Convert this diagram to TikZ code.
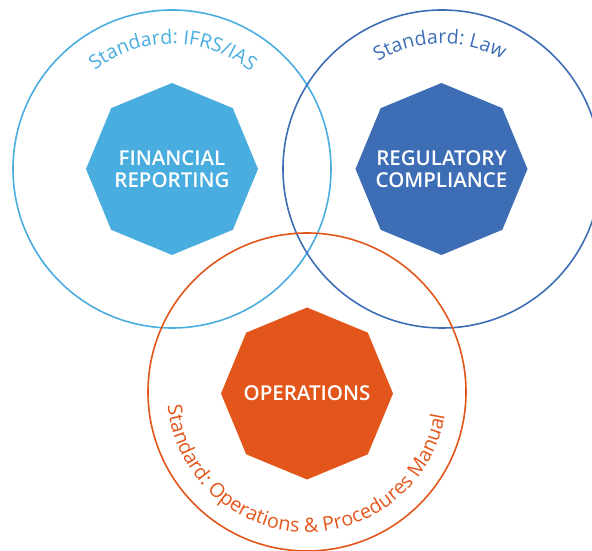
\documentclass[tikz,border=0pt]{standalone}
\usepackage{fontspec}
\setmainfont{Open Sans}
\newfontfamily\semib{Open Sans Semibold}
\usetikzlibrary{decorations.text}
\definecolor{lblue}{HTML}{49ADE0}
\definecolor{dblue}{HTML}{3D6EB5}
\definecolor{orng}{HTML}{E3561B}
\newcommand\curvA{\color{lblue}\fontsize{19.6}{18}\selectfont}
\newcommand\curvB{\color{dblue}\fontsize{19.6}{18}\selectfont}
\newcommand\curvC{\color{orng}\fontsize{19.8}{18}\selectfont}
\tikzset{
  ring/.style={line width=1.6pt},
  lbl/.style={text=white, font=\semib\fontsize{20.5}{22}\selectfont, align=center, inner sep=0pt},
}
\begin{document}
\begin{tikzpicture}[x=1pt,y=1pt]
\useasboundingbox (0,0) rectangle (592,551);
\clip (0,0) rectangle (592,551);
\coordinate (cA) at (172,382);
\coordinate (cB) at (442,382);
\coordinate (cC) at (307,159);
\coordinate (oA) at (172,382);
\coordinate (oB) at (441.5,382);
\coordinate (oC) at (307,157.5);
% circles
\draw[ring, lblue] (cA) circle[radius=159];
\draw[ring, dblue] (cB) circle[radius=159];
\draw[ring, orng] (cC) circle[radius=159];
% octagons
\fill[lblue] (oA) +(0:86) -- +(45:86) -- +(90:86) -- +(135:86) -- +(180:86) -- +(225:86) -- +(270:86) -- +(315:86) -- cycle;
\fill[dblue] (oB) +(0:86) -- +(45:86) -- +(90:86) -- +(135:86) -- +(180:86) -- +(225:86) -- +(270:86) -- +(315:86) -- cycle;
\fill[orng] (oC) +(0:86) -- +(45:86) -- +(90:86) -- +(135:86) -- +(180:86) -- +(225:86) -- +(270:86) -- +(315:86) -- cycle;
% labels
\node[lbl] (fin) at (oA) {FINANCIAL\\REPORTING};
\node[lbl] (reg) at (oB) {REGULATORY\\COMPLIANCE};
\node[lbl] (ops) at (oC) {OPERATIONS};
% curved texts
\path[decorate, decoration={text along path, text align=center,
  text={|\curvA|Standard: IFRS/IAS}}]
  ([shift={(160:125)}]cA) arc[start angle=160, end angle=19, radius=125];
\path[decorate, decoration={text along path, text align=center,
  text={|\curvB|Standard: Law}}]
  ([shift={(150:125)}]cB) arc[start angle=150, end angle=32, radius=125];
\path[decorate, decoration={text along path, text align=center,
  text={|\curvC|Standard: Operations {\&} Procedures Manual}}]
  ([shift={(180:140)}]cC) arc[start angle=180, end angle=356, radius=140];
\end{tikzpicture}
\end{document}
